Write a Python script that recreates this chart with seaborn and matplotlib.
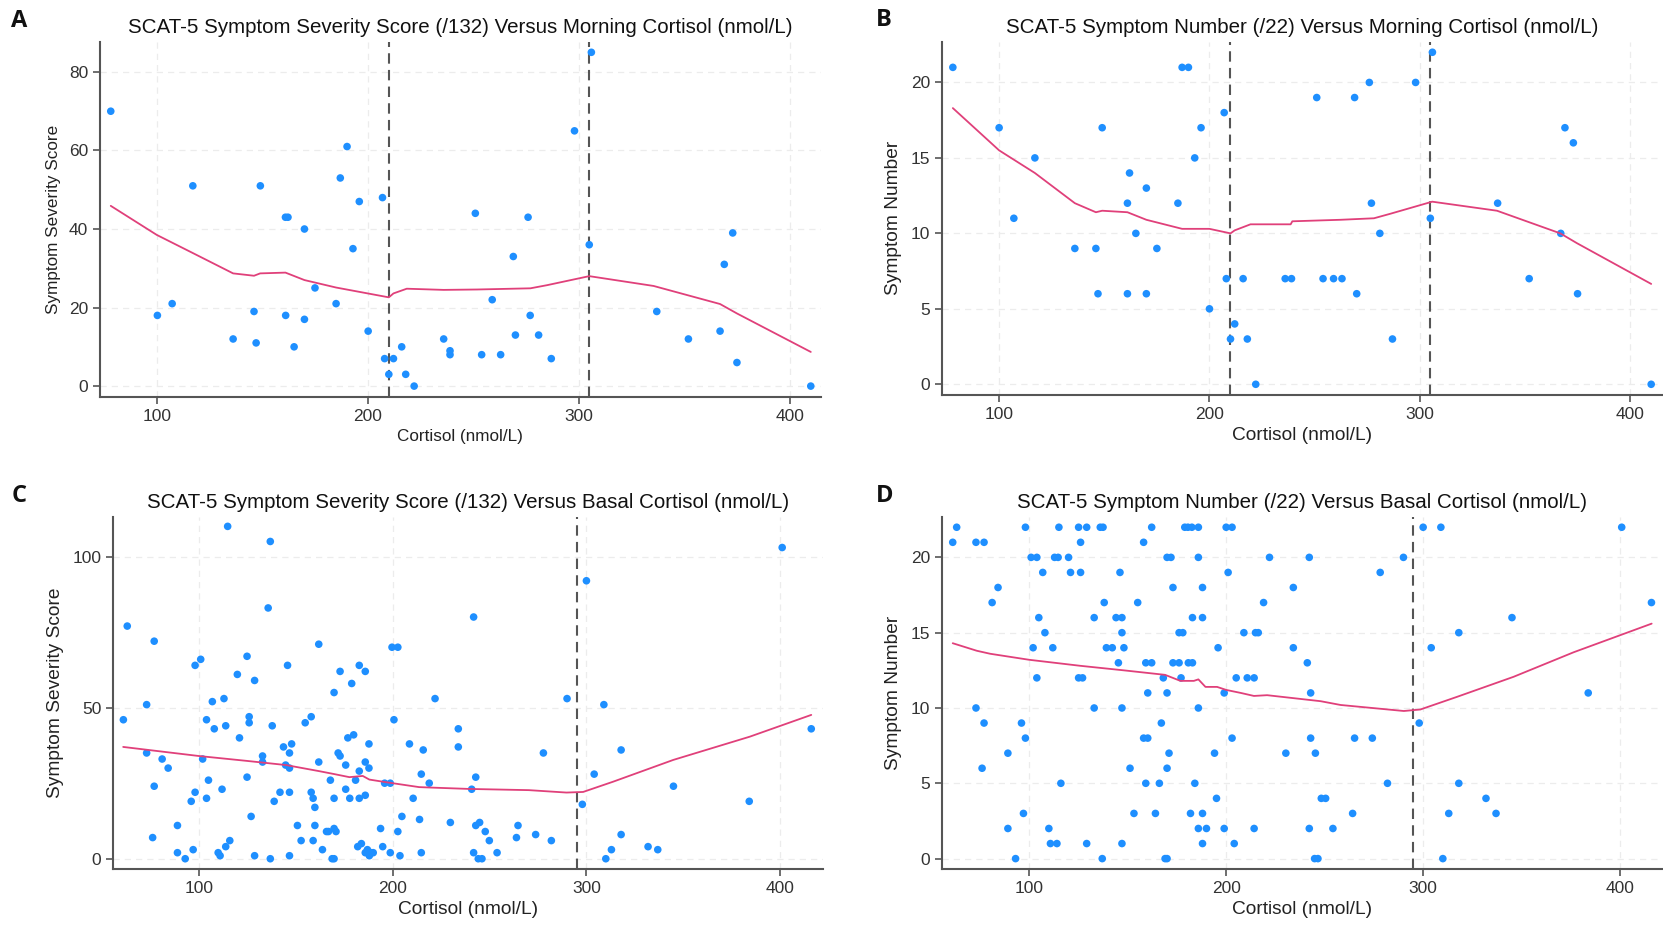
import matplotlib
matplotlib.use("Agg")
import matplotlib.pyplot as plt
import seaborn as sns
import pandas as pd

# ---------------- data ----------------
# Morning cortisol vs SCAT-5 symptom severity score
morning_sev_x = [78.2, 100.3, 107.3, 117.1, 136.2, 146.1, 147.1, 149.1, 161.0, 162.2, 161.1, 165.1,
                 170, 170, 175, 185, 187, 190.2, 193, 196, 200.2, 207, 208, 210, 212.2, 216.1, 218,
                 222, 236, 239, 239, 251, 254, 259, 263, 269, 270, 276, 277, 281, 287, 298, 305,
                 306, 337, 352, 367, 369, 373, 375, 410]
morning_sev_y = [70, 18, 21, 51, 12, 19, 11, 51, 43, 43, 18, 10,
                 40, 17, 25, 21, 53, 61, 35, 47, 14, 48, 7, 3, 7, 10, 3,
                 0, 12, 9, 8, 44, 8, 22, 8, 33, 13, 43, 18, 13, 7, 65, 36,
                 85, 19, 12, 14, 31, 39, 6, 0]
morning_sev_fit_x = [78.2, 100, 117.4, 136.2, 146.1, 149, 161, 170, 185, 200, 210, 212.2, 218.5,
                     236, 251.8, 277.1, 285, 305, 335.5, 367, 375, 410]
morning_sev_fit_y = [45.9, 38.5, 33.8, 28.7, 28.1, 28.7, 28.9, 27.0, 25.1, 23.6, 22.6, 23.6, 24.8,
                     24.5, 24.6, 24.9, 25.7, 28.0, 25.5, 20.9, 18.5, 8.7]

# Morning cortisol vs SCAT-5 symptom number
morning_num_x = [78, 100, 107, 117, 136, 146, 147, 149, 161, 161, 162, 165, 170, 170, 175, 185, 187,
                 190, 193, 196, 200, 207, 208, 210, 212, 216, 218, 222, 236, 239, 251, 254, 259,
                 263, 269, 270, 276, 277, 281, 287, 298, 305, 306, 337, 352, 367, 369, 373, 375, 410]
morning_num_y = [21, 17, 11, 15, 9, 9, 6, 17, 12, 6, 14, 10, 13, 6, 9, 12, 21,
                 21, 15, 17, 5, 18, 7, 3, 4, 7, 3, 0, 7, 7, 19, 7, 7,
                 7, 19, 6, 20, 12, 10, 3, 20, 11, 22, 12, 7, 10, 17, 16, 6, 0]
morning_num_fit_x = [78, 100, 117, 136, 146, 149, 161, 170, 187, 200, 210, 212, 219.5, 238.6,
                     239.4, 262.3, 278.2, 286, 305.9, 336.7, 366.8, 374.7, 410]
morning_num_fit_y = [18.3, 15.5, 14.0, 12.0, 11.4, 11.5, 11.4, 10.9, 10.3, 10.3, 10.0, 10.2, 10.6,
                     10.6, 10.8, 10.9, 11.0, 11.3, 12.1, 11.5, 10.0, 9.35, 6.65]

# Basal cortisol vs SCAT-5 symptom severity score
basal_sev_x = [61.1, 63.1, 73.1, 73.1, 76.2, 77, 77, 81.1, 84.2, 89, 89, 93, 96.1, 97.1, 98.1, 98.1,
               101, 102, 104, 104, 105, 107, 108, 110, 111, 112, 113, 113.9, 113.9, 116, 114.9,
               119.9, 121, 124.9, 126, 126, 124.9, 127, 128.8, 128.8, 132.9, 132.9, 135.8, 136.9,
               136.9, 137.9, 138.9, 141.9, 143.7, 145.8, 144.8, 146.8, 147.9, 146.8, 146.8, 146.8,
               150.9, 152.8, 154.9, 158, 158, 159, 159.9, 159.9, 159, 161.9, 161.9, 163.8, 165.9,
               166.9, 167.9, 169.8, 169.8, 169.8, 170.8, 168.8, 169.8, 171.9, 172.9, 172.9, 175.8,
               175.8, 176.9, 177.9, 178.9, 179.9, 180.9, 182, 182.8, 182.8, 182.8, 183.9, 185.9,
               185.9, 185.9, 185.9, 187.8, 187.8, 187, 188, 189, 190, 193.8, 194.9, 195.9, 198.8,
               198.8, 199.7, 202.7, 200.7, 202.7, 203.8, 204.8, 208.7, 210.6, 214.8, 213.9, 214.8,
               221.9, 241.8, 215.8, 233.9, 233.9, 218.9, 242.9, 240.8, 229.8, 242.9, 244.9, 247.8,
               249.9, 241.8, 244.2, 246.1, 253.9, 263.9, 264.7, 273.8, 281.9, 277.8, 290, 297.9,
               300, 304, 309, 310, 312.9, 317.9, 317.9, 331.8, 336.8, 344.9, 384, 401, 416]
basal_sev_y = [46, 77, 51, 35, 7, 72, 24, 33, 30, 11, 2, 0, 19, 3, 64, 22,
               66, 33, 20, 46, 26, 52, 43, 2, 1, 23, 53, 44, 4, 6, 110,
               61, 40, 67, 47, 45, 27, 14, 59, 1, 34, 32, 83, 105,
               0, 44, 19, 22, 37, 64, 31, 35, 38, 30, 22, 1,
               11, 6, 45, 47, 22, 20, 17, 11, 6, 71, 32, 3, 9,
               9, 26, 55, 20, 10, 9, 0, 0, 35, 34, 62, 31,
               23, 40, 20, 58, 41, 26, 4, 64, 29, 20, 5, 62,
               32, 21, 2, 38, 30, 3, 1, 2, 2, 10, 4, 25, 25,
               2, 70, 70, 46, 9, 1, 14, 38, 20, 28, 13, 2,
               53, 80, 36, 43, 37, 25, 27, 23, 12, 11, 12, 9,
               6, 2, 0, 0, 2, 7, 11, 8, 6, 35, 53, 18,
               92, 28, 51, 0, 3, 36, 8, 4, 3, 24, 19, 103, 43]
basal_sev_fit_x = [61, 100, 124.5, 145, 162, 170, 177.7, 184.6, 188, 194.9, 200, 213.7, 222, 239.5,
                   270.3, 289.7, 298.3, 313.8, 344.8, 384.3, 416]
basal_sev_fit_y = [37, 34, 32.4, 31, 29, 28, 27, 27.4, 26.2, 25.5, 25, 23.7, 23.5, 23.1,
                   22.7, 21.9, 22.1, 25.5, 32.7, 40.4, 47.6]

# Basal cortisol vs SCAT-5 symptom number
basal_num_x = [61.2, 63.2, 73, 77.1, 73, 77.1, 76.1, 81.2, 84.2, 89.2, 89.2, 93.1, 96.1, 97.1, 98.1,
               98.1, 101, 103.9, 102, 103.9, 104.9, 106.9, 108, 110, 110.8, 114.1, 112, 112.9,
               114.7, 115.1, 116.1, 120, 121, 125.1, 126.1, 125.1, 127.1, 126.1, 129.2, 129.2, 133,
               133, 136.1, 137.5, 137.1, 138.1, 139.2, 142.2, 144.1, 147.1, 145.3, 146.1, 147.1,
               148.1, 147.1, 147.1, 151.2, 153.2, 155.1, 158.1, 158.1, 160.2, 159.2, 162.2, 160.2,
               159.2, 162.2, 164.1, 166.1, 167.1, 168.1, 169, 170, 170, 170, 171, 170, 172, 173,
               173, 176.1, 176.1, 178, 177.1, 179, 180.6, 182.6, 185.9, 180.8, 182.9, 181.9, 182.9,
               184.1, 185.9, 185.9, 185.9, 188, 188, 188, 188, 190, 194.1, 195.1, 195.9, 199, 199,
               200, 203, 201, 203, 204.1, 205.1, 209, 210.7,
               222, 242.2, 234.1, 219, 214.9, 216.3, 234.1, 241.2, 214.2, 242.9, 242.9, 230.3,
               245.3, 248.3, 250.5, 214.2, 242.2,
               290, 278.2, 265.2, 274.2, 281.9, 264.2, 254.2, 244.9, 246.6, 298, 300, 309, 400.8,
               304.1, 318.1, 318.1, 313, 310, 331.9, 337, 345.1, 383.8, 415.9]
basal_num_y = [21, 22, 21, 21, 10, 9, 6, 17, 18, 7, 2, 0, 9, 3, 8,
               22, 20, 20, 14, 12, 16, 19, 15, 2, 1, 1, 14, 20,
               20, 22, 5, 20, 19, 22, 21, 12, 12, 19, 22, 1, 10,
               16, 22, 22, 0, 17, 14, 14, 16, 16, 13, 19, 15,
               14, 10, 1, 6, 3, 17, 21, 8, 8, 13, 13, 11,
               5, 22, 3, 5, 9, 12, 0, 0, 6, 11, 7, 20, 20, 18,
               13, 13, 15, 15, 12, 22, 22, 22, 22, 13, 13, 3, 16,
               5, 20, 10, 2, 18, 16, 3, 1, 2, 7, 4, 14, 2, 11,
               22, 22, 19, 8, 1, 12, 15, 12,
               20, 20, 18, 17, 15, 15, 14, 13, 12, 11, 8, 7,
               7, 4, 4, 2, 2,
               20, 19, 8, 8, 5, 3, 2, 0, 0, 9, 22, 22, 22,
               14, 15, 5, 3, 0, 4, 3, 16, 11, 17]
basal_num_fit_x = [61.2, 73.4, 80.2, 100, 126, 148, 169, 176.8, 183.6, 185.9, 189.5, 195.4, 200,
                   207.4, 214.1, 220.8, 248, 258.1, 290.2, 298.6, 317.2, 345.9, 376.4, 416]
basal_num_fit_y = [14.3, 13.8, 13.6, 13.2, 12.8, 12.5, 12.2, 11.8, 11.8, 11.9, 11.4, 11.4, 11.2,
                   11.0, 10.8, 10.85, 10.45, 10.2, 9.8, 9.9, 10.74, 12.07, 13.7, 15.6]

morning_cutoffs = [210, 305]
basal_cutoffs = [295]

titles = [
    "SCAT-5 Symptom Severity Score (/132) Versus Morning Cortisol (nmol/L)",
    "SCAT-5 Symptom Number (/22) Versus Morning Cortisol (nmol/L)",
    "SCAT-5 Symptom Severity Score (/132) Versus Basal Cortisol (nmol/L)",
    "SCAT-5 Symptom Number (/22) Versus Basal Cortisol (nmol/L)",
]
panel_letters = ["A", "B", "C", "D"]
x_label = "Cortisol (nmol/L)"
y_labels = ["Symptom Severity Score", "Symptom Number", "Symptom Severity Score", "Symptom Number"]
x_ticks = [100, 200, 300, 400]
y_ticks = [[0, 20, 40, 60, 80], [0, 5, 10, 15, 20], [0, 50, 100], [0, 5, 10, 15, 20]]

# ---------------- style ----------------
sns.set_style("white")
plt.rcParams["font.family"] = ["Liberation Sans", "DejaVu Sans"]

POINT_COLOR = "#1e8fff"
FIT_COLOR = "#e0407a"
AXIS_COLOR = "#555555"

fig = plt.figure(figsize=(16.63, 9.27), dpi=100)

W, H = 1663, 927
boxes = [
    (100.0, 41.7, 820.7, 396.7),
    (941.7, 41.7, 1661.7, 395.0),
    (113.3, 516.7, 822.7, 869.0),
    (941.7, 516.7, 1661.7, 869.0),
]
limits = [
    ((73.1, 414.7), (-2.7, 87.7)),
    ((72.7, 415.0), (-0.71, 22.7)),
    ((55.9, 421.9), (-3.4, 113.2)),
    ((55.6, 421.1), (-0.69, 22.7)),
]
panels = [
    (morning_sev_x, morning_sev_y, morning_sev_fit_x, morning_sev_fit_y, morning_cutoffs),
    (morning_num_x, morning_num_y, morning_num_fit_x, morning_num_fit_y, morning_cutoffs),
    (basal_sev_x, basal_sev_y, basal_sev_fit_x, basal_sev_fit_y, basal_cutoffs),
    (basal_num_x, basal_num_y, basal_num_fit_x, basal_num_fit_y, basal_cutoffs),
]
letter_pos = [(19, 21), (884, 20), (19.5, 496), (885, 496)]
label_sizes = [12.3, 13.8, 13.8, 13.8]

for i, (px, py, fx, fy, cuts) in enumerate(panels):
    l, t, r, b = boxes[i]
    ax = fig.add_axes([l / W, 1 - b / H, (r - l) / W, (b - t) / H])
    pts = pd.DataFrame({"cortisol": px, "score": py})
    fit = pd.DataFrame({"cortisol": fx, "score": fy})

    ax.set_axisbelow(True)
    ax.grid(True, linestyle=(0, (5, 4)), color="#ececec", linewidth=0.9)

    for c in cuts:
        ax.axvline(c, color=AXIS_COLOR, linestyle=(0, (5, 3)), linewidth=1.5, zorder=2)

    sns.scatterplot(data=pts, x="cortisol", y="score", ax=ax, color=POINT_COLOR,
                    s=30, edgecolor="none", linewidth=0, zorder=3)
    sns.lineplot(data=fit, x="cortisol", y="score", ax=ax, color=FIT_COLOR,
                 linewidth=1.3, estimator=None, sort=False, zorder=4)

    ax.set_xlim(*limits[i][0])
    ax.set_ylim(*limits[i][1])
    ax.set_xticks(x_ticks)
    ax.set_yticks(y_ticks[i])

    for side in ["top", "right"]:
        ax.spines[side].set_visible(False)
    for side in ["left", "bottom"]:
        ax.spines[side].set_color(AXIS_COLOR)
        ax.spines[side].set_linewidth(1.5)
    ax.tick_params(axis="both", direction="out", length=5, width=1.2, color=AXIS_COLOR,
                   labelcolor="#333333", labelsize=12.5, left=True, bottom=True)

    ax.set_xlabel(x_label, fontsize=label_sizes[i], color="#222222", labelpad=4)
    ax.set_ylabel(y_labels[i], fontsize=label_sizes[i], color="#222222", labelpad=6)
    ax.set_title(titles[i], fontsize=14.8, color="#111111", pad=6)

    lx, ly = letter_pos[i]
    fig.text(lx / W, 1 - ly / H, panel_letters[i], fontsize=17, fontweight="bold",
             family=["Open Sans", "DejaVu Sans"], ha="center", va="center", color="#111111")

fig.savefig("out.png", dpi=100)
